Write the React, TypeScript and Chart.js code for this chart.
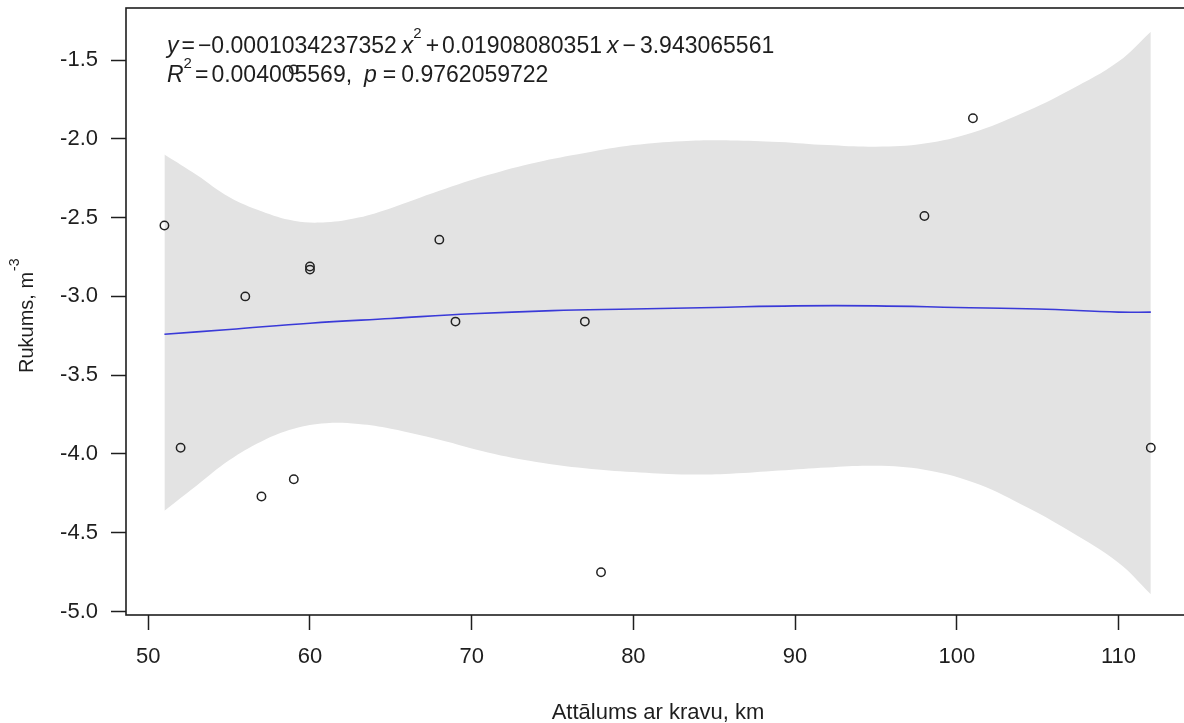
import React, { useEffect, useRef } from 'react';
import { Chart, registerables } from 'chart.js';

Chart.register(...registerables);

// Observed points (distance km, value)
const pointX = [51, 52, 56, 57, 59, 59, 60, 60, 68, 69, 77, 78, 98, 101, 112];
const pointY = [-2.55, -3.96, -3.0, -4.27, -4.16, -1.56, -2.81, -2.83, -2.64, -3.16, -3.16, -4.75, -2.49, -1.87, -3.96];

// Fitted quadratic curve
const fitX = [51, 55, 60, 65, 70, 75, 80, 85, 90, 95, 100, 105, 110, 112];
const fitY = [-3.24, -3.21, -3.17, -3.14, -3.11, -3.09, -3.08, -3.07, -3.06, -3.06, -3.07, -3.08, -3.1, -3.1];

// Confidence band
const bandX = [51, 53, 55, 57, 59, 61, 63, 65, 68, 71, 74, 77, 80, 83, 86, 89, 92, 95, 98, 101, 104, 107, 110, 112];
const bandUpper = [-2.1, -2.23, -2.37, -2.46, -2.52, -2.53, -2.5, -2.44, -2.33, -2.23, -2.15, -2.09, -2.04, -2.015, -2.01, -2.02, -2.04, -2.05, -2.03, -1.96, -1.84, -1.69, -1.51, -1.32];
const bandLower = [-4.36, -4.2, -4.04, -3.92, -3.84, -3.805, -3.81, -3.84, -3.91, -3.99, -4.05, -4.09, -4.115, -4.13, -4.125, -4.105, -4.085, -4.075, -4.1, -4.18, -4.32, -4.49, -4.69, -4.89];

const xTicks = [50, 60, 70, 80, 90, 100, 110];
const yTicks = [-5.0, -4.5, -4.0, -3.5, -3.0, -2.5, -2.0, -1.5];

const xTitle = 'Attālums ar kravu, km';
const yTitle = 'Rukums, m';
const yTitleSup = '-3';

type Run = { t?: string; italic?: boolean; sup?: boolean; gap?: number };
const eqLine1: Run[] = [
  { t: 'y', italic: true }, { gap: 3 }, { t: '=' }, { gap: 3 }, { t: '\u22120.0001034237352' }, { gap: 5 },
  { t: 'x', italic: true }, { t: '2', sup: true }, { gap: 4 }, { t: '+' }, { gap: 3 }, { t: '0.01908080351' }, { gap: 5 },
  { t: 'x', italic: true }, { gap: 4 }, { t: '\u2212' }, { gap: 4 }, { t: '3.943065561' },
];
const eqLine2: Run[] = [
  { t: 'R', italic: true }, { t: '2', sup: true }, { gap: 3 }, { t: '=' }, { gap: 3 }, { t: '0.004005569,' }, { gap: 12 },
  { t: 'p', italic: true }, { gap: 6 }, { t: '=' }, { gap: 5 }, { t: '0.9762059722' },
];

const FONT = '"Liberation Sans", Arial, Helvetica, sans-serif';
const INK = '#1e1e1e';

function drawRuns(ctx: CanvasRenderingContext2D, x: number, y: number, runs: Run[], size: number, supSize: number, raise: number) {
  let cx = x;
  for (const r of runs) {
    if (r.gap) { cx += r.gap; continue; }
    const s = r.sup ? supSize : size;
    ctx.font = `${r.italic ? 'italic ' : ''}${s}px ${FONT}`;
    ctx.fillText(r.t || '', cx, r.sup ? y - raise : y);
    cx += ctx.measureText(r.t || '').width;
  }
}

const textPlugin = {
  id: 'rtext',
  beforeDatasetsDraw(chart: any) {
    const ctx = chart.ctx as CanvasRenderingContext2D;
    ctx.save();
    ctx.fillStyle = INK;
    ctx.textAlign = 'left';
    ctx.textBaseline = 'alphabetic';
    drawRuns(ctx, 167, 53, eqLine1, 23, 15, 15);
    drawRuns(ctx, 167, 82, eqLine2, 23, 15, 14);
    ctx.restore();
  },
  afterDraw(chart: any) {
    const ctx = chart.ctx as CanvasRenderingContext2D;
    const a = chart.chartArea;
    ctx.save();
    ctx.strokeStyle = INK;
    ctx.lineWidth = 1.6;
    ctx.strokeRect(a.left, a.top, a.right - a.left, a.bottom - a.top);
    ctx.fillStyle = INK;
    ctx.font = `22px ${FONT}`;
    ctx.textAlign = 'center';
    ctx.textBaseline = 'alphabetic';
    ctx.fillText(xTitle, 658, 719);
    ctx.translate(33, 373);
    ctx.rotate(-Math.PI / 2);
    ctx.textAlign = 'left';
    ctx.font = `20px ${FONT}`;
    ctx.fillText(yTitle, 0, 0);
    const w = ctx.measureText(yTitle).width;
    ctx.font = `14px ${FONT}`;
    ctx.fillText(yTitleSup, w + 1, -14);
    ctx.restore();
  },
};

export default function App() {
  const ref = useRef<HTMLCanvasElement | null>(null);
  useEffect(() => {
    if (!ref.current) return;
    const chart = new Chart(ref.current, {
      type: 'line',
      data: {
        datasets: [
          {
            label: 'upper',
            data: bandX.map((x, i) => ({ x, y: bandUpper[i] })),
            borderWidth: 0,
            borderColor: 'rgba(0,0,0,0)',
            pointRadius: 0,
            backgroundColor: '#e3e3e3',
            fill: '+1',
            tension: 0.4,
            order: 3,
          },
          {
            label: 'lower',
            data: bandX.map((x, i) => ({ x, y: bandLower[i] })),
            borderWidth: 0,
            borderColor: 'rgba(0,0,0,0)',
            pointRadius: 0,
            fill: false,
            tension: 0.4,
            order: 3,
          },
          {
            label: 'fit',
            data: fitX.map((x, i) => ({ x, y: fitY[i] })),
            borderColor: '#3a3ad8',
            borderWidth: 1.6,
            pointRadius: 0,
            fill: false,
            tension: 0.4,
            order: 1,
          },
          {
            label: 'points',
            data: pointX.map((x, i) => ({ x, y: pointY[i] })),
            showLine: false,
            pointRadius: 4.2,
            pointBorderWidth: 1.5,
            pointBorderColor: '#222',
            pointBackgroundColor: 'rgba(255,255,255,0)',
            fill: false,
            order: 0,
          },
        ],
      },
      options: {
        animation: false,
        responsive: false,
        devicePixelRatio: 1,
        events: [],
        layout: { padding: { top: 8, right: 4, left: 0, bottom: 0 } },
        plugins: { legend: { display: false }, tooltip: { enabled: false }, title: { display: false } },
        scales: {
          x: {
            type: 'linear',
            min: 48.623,
            max: 114.69,
            afterFit: (s: any) => { s.height = 108; s.paddingLeft = 0; s.paddingRight = 0; },
            afterBuildTicks: (s: any) => { s.ticks = xTicks.map((v) => ({ value: v })); },
            border: { display: false },
            grid: { drawOnChartArea: false, drawTicks: true, tickLength: 15, tickColor: INK, tickWidth: 1.5 },
            ticks: { color: INK, font: { family: FONT, size: 22 }, padding: 14, maxRotation: 0, autoSkip: false, callback: (v: any) => String(v) },
          },
          y: {
            type: 'linear',
            min: -5.0216,
            max: -1.17,
            afterFit: (s: any) => { s.width = 126; s.paddingTop = 0; s.paddingBottom = 0; },
            afterBuildTicks: (s: any) => { s.ticks = yTicks.map((v) => ({ value: v })); },
            border: { display: false },
            grid: { drawOnChartArea: false, drawTicks: true, tickLength: 15, tickColor: INK, tickWidth: 1.5 },
            ticks: { color: INK, font: { family: FONT, size: 22 }, padding: 13, autoSkip: false, callback: (v: any) => Number(v).toFixed(1) },
          },
        },
      },
      plugins: [textPlugin],
    } as any);
    return () => chart.destroy();
  }, []);

  return (
    <div style={{ position: 'absolute', left: 0, top: 0, width: 1184, height: 723, overflow: 'hidden', background: '#fff' }}>
      <canvas ref={ref} width={1200} height={723} style={{ width: 1200, height: 723, display: 'block' }} />
    </div>
  );
}
